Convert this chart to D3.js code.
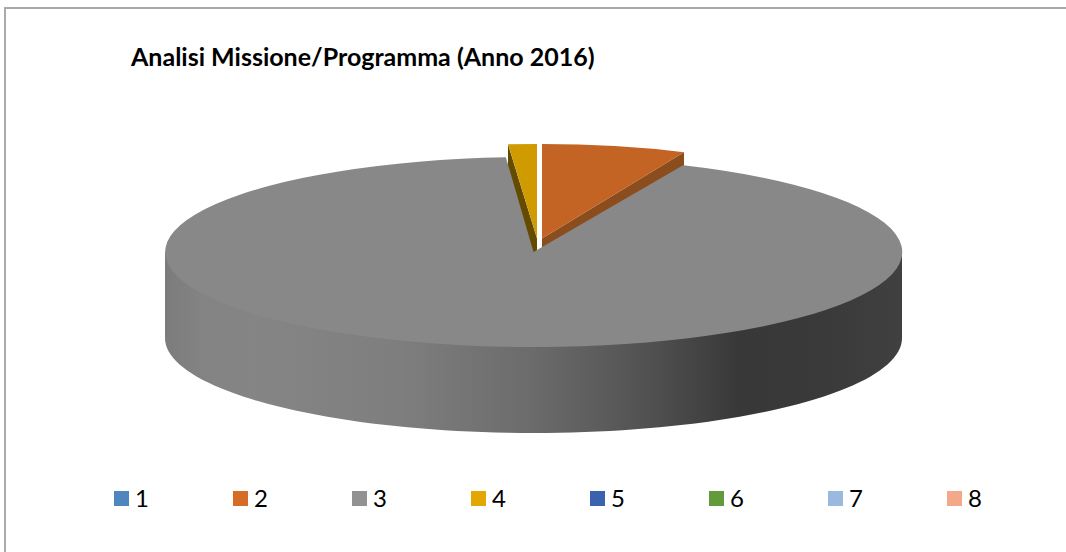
<!DOCTYPE html>
<html>
<head>
<meta charset="utf-8">
<script src="https://cdn.jsdelivr.net/npm/d3@7"></script>
<style>
  html, body { margin: 0; padding: 0; background: #fff; }
  svg { display: block; }
  text { font-family: Lato, "Open Sans", sans-serif; fill: #000; }
</style>
</head>
<body>
<div id="chart"></div>
<script>
const title = 'Analisi Missione/Programma (Anno 2016)';
const categories = ['1', '2', '3', '4', '5', '6', '7', '8'];
const values = [0, 6.65, 92.15, 1.2, 0, 0, 0, 0];
const legendColors = ['#4f86bd', '#d56d27', '#929292', '#e2a700', '#3a62ad', '#629a3c', '#9ab9df', '#f3a88a'];
const faceColors = ['#4f86bd', '#c46424', '#888888', '#cf9b00', '#3a62ad', '#629a3c', '#9ab9df', '#f3a88a'];
const wallColors = ['#2f5070', '#8c4d1e', '#555555', '#654b00', '#233b68', '#3b5c24', '#5c6f86', '#926553'];
const sideStops = [[0, '#7c7c7c'], [0.05, '#838383'], [0.12, '#858585'], [0.32, '#7e7e7e'], [0.5, '#6b6b6b'], [0.65, '#525252'], [0.78, '#383838'], [0.9, '#3a3a3a'], [1, '#404040']];

const width = 1066, height = 552;
const svg = d3.select('#chart').append('svg').attr('width', width).attr('height', height);

svg.append('path')
  .attr('d', `M5,${height}V8H${width}`)
  .attr('fill', 'none').attr('stroke', '#aaaaaa').attr('stroke-width', 2);

svg.append('text').attr('x', 131).attr('y', 66)
  .attr('font-size', 25).attr('font-weight', 700)
  .text(title);

const pie = d3.pie().sort(null).value(d => d)(values);

// main body of the pie and the two slices pulled out of it
const body = { cx: 533.5, cy: 252, rx: 368.5, ry: 95, depth: 86 };
const pulled = {
  1: { cx: 542, cy: 238.5, rx: 350, ry: 94.5 },
  3: { cx: 537, cy: 238.5, rx: 385, ry: 94.5 }
};

const defs = svg.append('defs');
const grad = defs.append('linearGradient').attr('id', 'side')
  .attr('gradientUnits', 'userSpaceOnUse')
  .attr('x1', body.cx - body.rx).attr('x2', body.cx + body.rx)
  .attr('y1', 0).attr('y2', 0);
grad.selectAll('stop').data(sideStops).enter().append('stop')
  .attr('offset', d => d[0]).attr('stop-color', d => d[1]);

const unitArc = d3.arc().innerRadius(0).outerRadius(1);
const place = g => `translate(${g.cx},${g.cy}) scale(${g.rx},${g.ry})`;

// walls of the pulled slices go first, the grey body then hides most of them
Object.keys(pulled).forEach(k => {
  const g = pulled[k], a = pie[k];
  const wallAngle = k === '1' ? a.endAngle : a.startAngle;
  const wall = [[g.cx, g.cy], [g.cx + g.rx * Math.sin(wallAngle), g.cy - g.ry * Math.cos(wallAngle)]];
  const edge = d3.area().x(d => d[0]).y0(d => d[1]).y1(d => d[1] + body.depth);
  svg.append('path').attr('d', edge(wall)).attr('fill', wallColors[k]);
  svg.append('path').attr('d', unitArc(a)).attr('transform', place(g)).attr('fill', faceColors[k]);
});

// rim of the body, front half only. top edge sits under the face so no seam shows
const rimAngles = d3.range(91).map(i => Math.PI / 2 + i * Math.PI / 90);
const rim = d3.area()
  .x(t => body.cx + body.rx * Math.sin(t))
  .y0(body.cy)
  .y1(t => body.cy - body.ry * Math.cos(t) + body.depth);
svg.append('path').attr('d', rim(rimAngles)).attr('fill', 'url(#side)');

svg.append('path').attr('d', unitArc(pie[2])).attr('transform', place(body)).attr('fill', faceColors[2]);

const legendX = d3.scalePoint().domain(categories).range([114, 947]);
const legend = svg.append('g').selectAll('g').data(categories).enter().append('g')
  .attr('transform', d => `translate(${legendX(d)},491)`);
legend.append('rect').attr('width', 15).attr('height', 15).attr('fill', (d, i) => legendColors[i]);
legend.append('text').attr('x', 21).attr('y', 16).attr('font-size', 24).text(d => d);
</script>
</body>
</html>
